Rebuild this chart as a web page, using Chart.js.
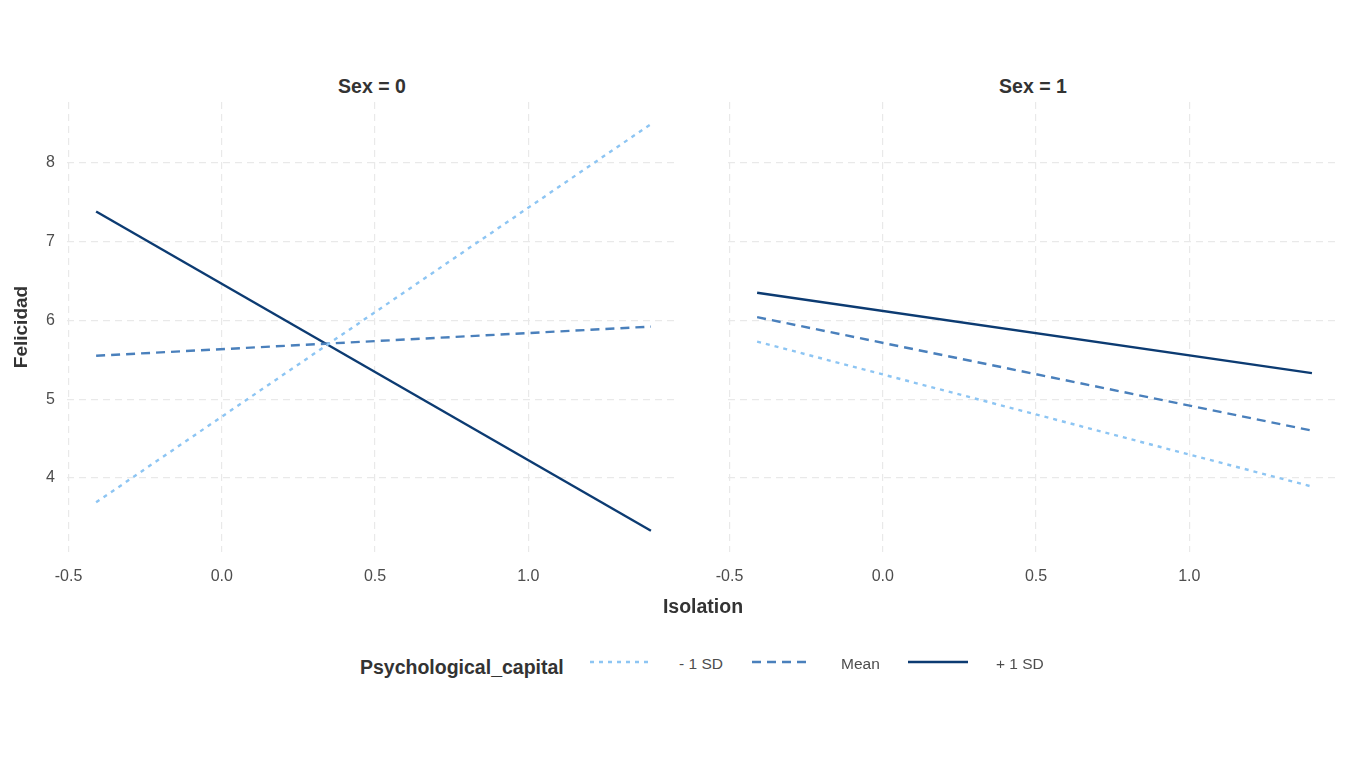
<!DOCTYPE html>
<html>
<head>
<meta charset="utf-8">
<script src="https://cdn.jsdelivr.net/npm/chart.js@4/dist/chart.umd.min.js"></script>
<style>
  body { margin:0; background:#fff; font-family:"Liberation Sans", Arial, sans-serif; }
  #wrap { position:relative; width:1350px; height:759px; overflow:hidden; }
  .box { position:absolute; }
  .strip { position:absolute; top:75px; font-weight:bold; font-size:19.5px; color:#333; text-align:center; }
  .lab { position:absolute; font-size:15.5px; color:#4d4d4d; }
</style>
</head>
<body>
<div id="wrap">
  <div class="strip" style="left:67px;width:610px;">Sex = 0</div>
  <div class="strip" style="left:728px;width:610px;">Sex = 1</div>
  <div class="box" style="left:0;top:0;width:690px;height:600px;"><canvas id="panel0"></canvas></div>
  <div class="box" style="left:690px;top:0;width:660px;height:600px;"><canvas id="panel1"></canvas></div>
  <div style="position:absolute;left:600px;width:206px;top:595px;text-align:center;font-weight:bold;font-size:19.5px;color:#333;">Isolation</div>

  <div style="position:absolute;left:360px;top:656px;font-weight:bold;font-size:19.5px;color:#333;">Psychological_capital</div>
  <svg style="position:absolute;left:588px;top:656px;" width="64" height="12"><line x1="2" y1="6" x2="62" y2="6" stroke="#8dc5f3" stroke-width="2.4" stroke-dasharray="4,5"/></svg>
  <div class="lab" style="left:679px;top:655px;">- 1 SD</div>
  <svg style="position:absolute;left:750px;top:656px;" width="64" height="12"><line x1="2" y1="6" x2="62" y2="6" stroke="#4a80bc" stroke-width="2.4" stroke-dasharray="9,6"/></svg>
  <div class="lab" style="left:841px;top:655px;">Mean</div>
  <svg style="position:absolute;left:906px;top:656px;" width="64" height="12"><line x1="2" y1="6" x2="62" y2="6" stroke="#0c3b72" stroke-width="2.4"/></svg>
  <div class="lab" style="left:996px;top:655px;">+ 1 SD</div>
</div>

<script>
var isolation = [-0.41, 1.40];

var sex0Low  = [3.69, 8.49];
var sex0Mean = [5.55, 5.92];
var sex0High = [7.38, 3.33];

var sex1Low  = [5.73, 3.89];
var sex1Mean = [6.04, 4.60];
var sex1High = [6.35, 5.33];

var xTicks = [-0.5, 0.0, 0.5, 1.0];
var yTicks = [4, 5, 6, 7, 8];

var groups = ['- 1 SD', 'Mean', '+ 1 SD'];
var colores = ['#8dc5f3', '#4a80bc', '#0c3b72'];
var guiones = [[4,5], [9,6], []];

function puntos(vals)
{
  var p = [];
  for (var i = 0; i < vals.length; i++) {
    p.push({x: isolation[i], y: vals[i]});
  }
  return p;
}

function panel(id, series, conEje)
{
  var datasets = [];
  for (var i = 0; i < series.length; i++) {
    datasets.push({
      label       : groups[i],
      data        : puntos(series[i]),
      borderColor : colores[i],
      borderWidth : 2.4,
      borderDash  : guiones[i],
      pointRadius : 0,
      fill        : false,
      tension     : 0
    });
  }

  var ctx = document.getElementById(id).getContext('2d');
  new Chart(ctx, {
    type: 'line',
    data: { datasets: datasets },
    options: {
      responsive          : true,
      maintainAspectRatio : false,
      animation           : false,
      layout: { padding: conEje ? {top:102, right:13, left:0, bottom:0} : {top:102, right:12, left:38, bottom:0} },
      plugins: { legend: {display:false}, tooltip: {enabled:false} },
      scales: {
        x: {
          type: 'linear',
          min: -0.505,
          max: 1.485,
          afterBuildTicks: function(s){ s.ticks = xTicks.map(function(v){ return {value:v}; }); },
          afterFit: function(s){ s.height = 48; },
          ticks: {
            color: '#4d4d4d',
            font: {family:'Liberation Sans', size:16},
            padding: 15,
            maxRotation: 0,
            callback: function(v){ return Number(v).toFixed(1); }
          },
          grid: { color:'#e9e9e9', lineWidth:1.2, drawTicks:false },
          border: { display:false, dash:[7,5] }
        },
        y: {
          min: 3.06,
          max: 8.77,
          afterBuildTicks: function(s){ s.ticks = yTicks.map(function(v){ return {value:v}; }); },
          afterFit: function(s){ s.width = conEje ? 67 : 0; },
          ticks: {
            display: conEje,
            color: '#4d4d4d',
            font: {family:'Liberation Sans', size:16},
            padding: 12
          },
          title: {
            display: conEje,
            text: 'Felicidad',
            color: '#333',
            font: {family:'Liberation Sans', size:19, weight:'bold'},
            padding: {top:10, bottom:4}
          },
          grid: { color:'#e9e9e9', lineWidth:1.2, drawTicks:false },
          border: { display:false, dash:[7,5] }
        }
      }
    }
  });
}

panel('panel0', [sex0Low, sex0Mean, sex0High], true);
panel('panel1', [sex1Low, sex1Mean, sex1High], false);
</script>
</body>
</html>
